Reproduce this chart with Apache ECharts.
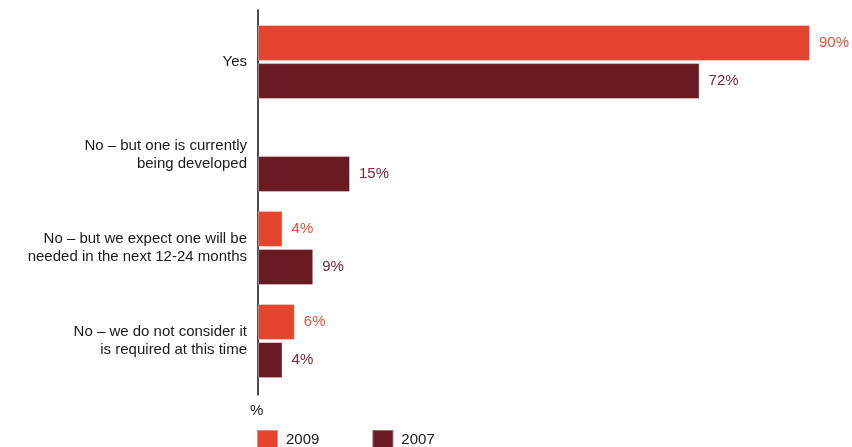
<!DOCTYPE html>
<html>
<head>
<meta charset="utf-8">
<script src="https://cdn.jsdelivr.net/npm/echarts@6/dist/echarts.min.js"></script>
<style>
  html, body { margin: 0; padding: 0; background: #fff; }
  #chart { width: 852px; height: 447px; }
</style>
</head>
<body>
<div id="chart"></div>
<script>
// Survey answers, top to bottom
const categories = [
  'Yes',
  'No – but one is currently\nbeing developed',
  'No – but we expect one will be\nneeded in the next 12-24 months',
  'No – we do not consider it\nis required at this time'
];
const seriesNames = ['2009', '2007'];
// Percent of respondents; no 2009 figure for the second answer
const values2009 = [90, null, 4, 6];
const values2007 = [72, 15, 9, 4];

const colors = { '2009': '#e5452f', '2007': '#6a1a23' };
const labelColors = { '2009': '#e8503a', '2007': '#7a2733' };
const FONT = '"Liberation Sans", Arial, Helvetica, sans-serif';

function barSeries(name, data) {
  return {
    name: name,
    type: 'bar',
    xAxisIndex: 0,
    yAxisIndex: 0,
    data: data,
    barWidth: 36,
    barGap: '6%',
    itemStyle: {
      color: colors[name],
      borderColor: 'rgba(255,255,255,0.35)',
      borderWidth: 1
    },
    label: {
      show: true,
      position: 'right',
      distance: 9,
      formatter: p => p.value + '%',
      color: labelColors[name],
      fontFamily: FONT,
      fontSize: 15
    }
  };
}

const chart = echarts.init(document.getElementById('chart'), null, { renderer: 'canvas' });
chart.setOption({
  animation: false,
  textStyle: { fontFamily: FONT },
  title: {
    text: '%',
    left: 245,
    top: 398,
    textStyle: { fontFamily: FONT, fontSize: 15, fontWeight: 'normal', color: '#1a1a1a' }
  },
  legend: {
    data: seriesNames,
    left: 251,
    top: 424,
    itemWidth: 21,
    itemHeight: 20,
    itemGap: 52,
    icon: 'rect',
    textStyle: { fontFamily: FONT, fontSize: 15, color: '#1a1a1a', padding: [0, 0, 0, 3] }
  },
  grid: [
    { left: 258, right: 42, top: 15.5, height: 372, containLabel: false },
    // carries the vertical baseline, which runs a little past the bars
    { left: 258, width: 10, top: 10, height: 385, containLabel: false }
  ],
  xAxis: [
    { type: 'value', gridIndex: 0, min: 0, max: 90, show: false },
    { type: 'value', gridIndex: 1, min: 0, max: 1, show: false }
  ],
  yAxis: [
    {
      type: 'category',
      gridIndex: 0,
      data: categories,
      inverse: true,
      axisLine: { show: false },
      axisTick: { show: false },
      splitLine: { show: false },
      axisLabel: {
        margin: 11,
        fontFamily: FONT,
        fontSize: 15,
        lineHeight: 18,
        color: '#1a1a1a',
        align: 'right'
      }
    },
    {
      type: 'value',
      gridIndex: 1,
      min: 0,
      max: 1,
      axisLine: { show: true, lineStyle: { color: '#111', width: 1.5 } },
      axisTick: { show: false },
      axisLabel: { show: false },
      splitLine: { show: false }
    }
  ],
  series: [
    barSeries('2009', values2009),
    barSeries('2007', values2007)
  ]
});
</script>
</body>
</html>
